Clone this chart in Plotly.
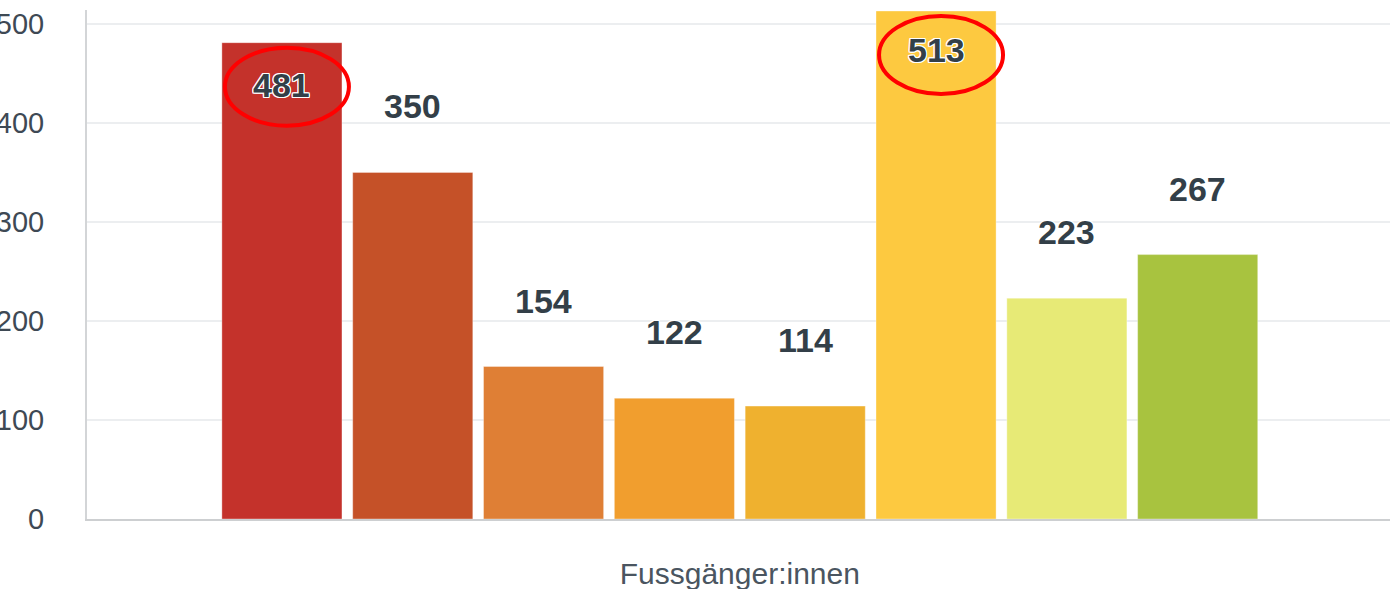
import plotly.graph_objects as go

category = "Fussgänger:innen"
series_names = ["Serie 1", "Serie 2", "Serie 3", "Serie 4", "Serie 5", "Serie 6", "Serie 7", "Serie 8"]
values = [481, 350, 154, 122, 114, 513, 223, 267]
colors = ["#C4322B", "#C55128", "#DF7F35", "#F19E2E", "#EFB12F", "#FDC940", "#E7EA76", "#A8C33F"]
highlighted = [True, False, False, False, False, True, False, False]
y_ticks = [0, 100, 200, 300, 400, 500]

fig = go.Figure()
positions = list(range(len(values)))
for i, (name, v, c) in enumerate(zip(series_names, values, colors)):
    fig.add_trace(go.Bar(
        x=[positions[i]], y=[v], name=name, width=0.918,
        marker=dict(color=c, line=dict(color="rgba(255,255,255,0.35)", width=1)),
        showlegend=False, hoverinfo="y",
    ))

outline = ("1px 1px 0 #fff, -1px -1px 0 #fff, 1px -1px 0 #fff, -1px 1px 0 #fff, "
           "0 1px 0 #fff, 0 -1px 0 #fff, 1px 0 0 #fff, -1px 0 0 #fff")
for i, v in enumerate(values):
    fig.add_annotation(
        x=positions[i], y=v, text=str(v), showarrow=False,
        yshift=(-42 if v < 500 else -39) if highlighted[i] else 66,
        font=dict(family="Liberation Sans, Arial, sans-serif", size=34, color="#333F48",
                  weight="bold", shadow=outline),
    )
    if highlighted[i]:
        fig.add_shape(
            type="circle", xref="x", yref="y", xsizemode="pixel", ysizemode="pixel",
            xanchor=positions[i], yanchor=v,
            x0=-57, x1=67, y0=-83, y1=-5,
            line=dict(color="#FF0000", width=4), fillcolor="rgba(0,0,0,0)",
        )

fig.update_layout(
    width=1398, height=589,
    margin=dict(l=87, r=8, t=10, b=70),
    paper_bgcolor="white", plot_bgcolor="white",
    font=dict(family="Liberation Sans, Arial, sans-serif", color="#3E4954"),
)
fig.update_xaxes(
    range=[-1.49, 8.47], tickvals=[(len(values) - 1) / 2], ticktext=[category],
    showgrid=False, zeroline=False, showline=True, linecolor="#CDCFD1", linewidth=2,
    tickfont=dict(size=30, color="#4A5560"), ticks="", ticklabelstandoff=27,
    automargin=False,
)
fig.update_yaxes(
    range=[0, 514], tickvals=y_ticks,
    showgrid=True, gridcolor="#ECEEF0", gridwidth=2,
    zeroline=False, showline=True, linecolor="#D3D5D7", linewidth=2,
    tickfont=dict(size=29, color="#3E4954"), ticks="", ticklabelstandoff=35,
    automargin=False,
)

fig.write_html("out.html", config={"displayModeBar": False},
               post_script="document.body.style.margin='0';")
